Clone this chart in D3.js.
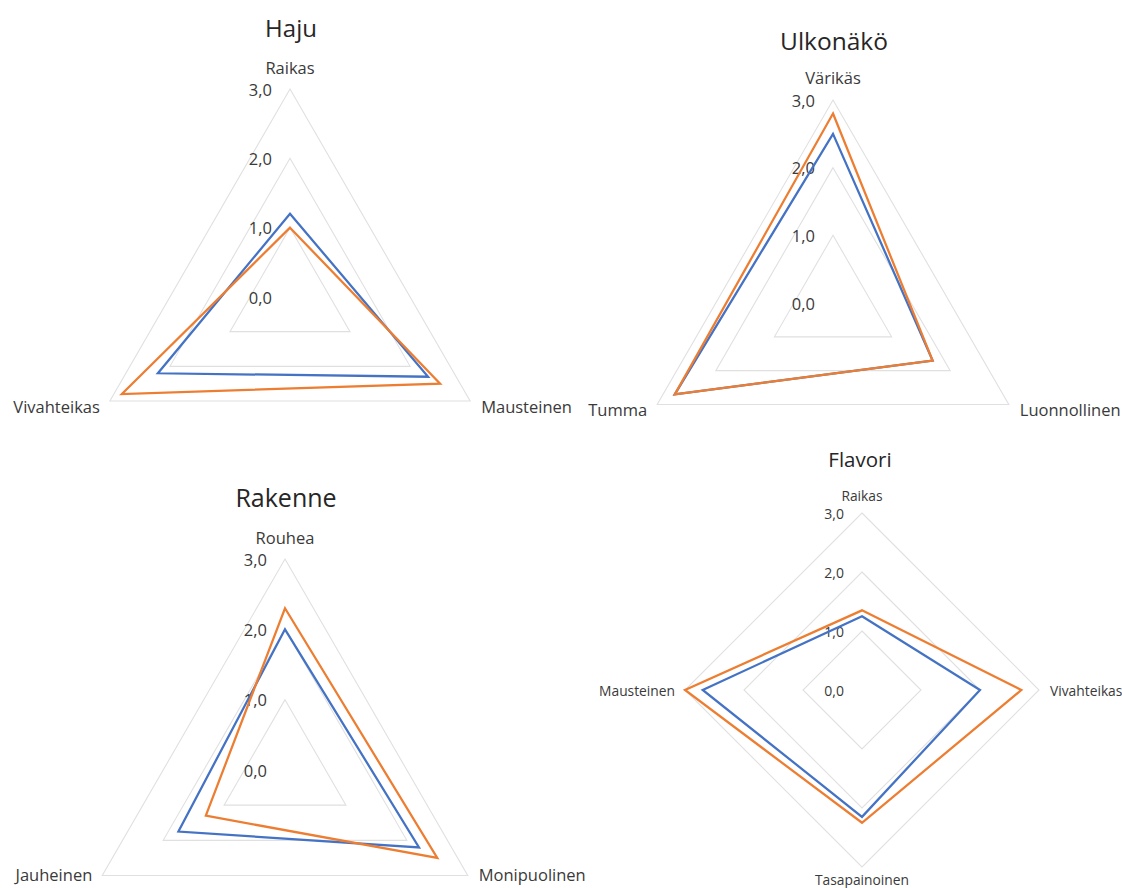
<!DOCTYPE html>
<html>
<head>
<meta charset="utf-8">
<script src="https://cdn.jsdelivr.net/npm/d3@7"></script>
<style>
  html, body { margin: 0; padding: 0; background: #ffffff; }
  svg { display: block; }
  text { font-family: "Open Sans", "Noto Sans", sans-serif; }
</style>
</head>
<body>
<svg id="chart" width="1122" height="888"></svg>
<script>
// ---- data ----
const tickValues = [0, 1, 2, 3];
const tickLabels = ["0,0", "1,0", "2,0", "3,0"];

const hajuCategories = ["Raikas", "Mausteinen", "Vivahteikas"];
const hajuSeries1 = [1.2, 2.3, 2.2];
const hajuSeries2 = [1.0, 2.5, 2.8];

const ulkonakoCategories = ["Värikäs", "Luonnollinen", "Tumma"];
const ulkonakoSeries1 = [2.5, 1.7, 2.7];
const ulkonakoSeries2 = [2.8, 1.7, 2.7];

const rakenneCategories = ["Rouhea", "Monipuolinen", "Jauheinen"];
const rakenneSeries1 = [2.0, 2.2, 1.75];
const rakenneSeries2 = [2.3, 2.5, 1.3];

const flavoriCategories = ["Raikas", "Vivahteikas", "Tasapainoinen", "Mausteinen"];
const flavoriSeries1 = [1.25, 2.0, 2.15, 2.7];
const flavoriSeries2 = [1.35, 2.7, 2.25, 3.0];

const seriesColors = ["#4472C4", "#ED7D31"];

// ---- layout ----
const charts = [
  { title: "Haju", cats: hajuCategories, series: [hajuSeries1, hajuSeries2],
    cx: 290, cy: 297, R: 208, titleX: 291, titleY: 27, titleSize: 24, labelSize: 16.5, valueSize: 16.5, topGap: 22, sideDy: 5 },
  { title: "Ulkonäkö", cats: ulkonakoCategories, series: [ulkonakoSeries1, ulkonakoSeries2],
    cx: 833, cy: 303, R: 203, titleX: 834, titleY: 40, titleSize: 24.5, labelSize: 16.5, valueSize: 16.5, topGap: 23, sideDy: 5 },
  { title: "Rakenne", cats: rakenneCategories, series: [rakenneSeries1, rakenneSeries2],
    cx: 285, cy: 770, R: 211, titleX: 286, titleY: 497, titleSize: 25, labelSize: 16.5, valueSize: 16.5, topGap: 22, sideDy: -1 },
  { title: "Flavori", cats: flavoriCategories, series: [flavoriSeries1, flavoriSeries2],
    cx: 862, cy: 690, R: 177, titleX: 860, titleY: 459, titleSize: 20.5, labelSize: 13.8, valueSize: 14, topGap: 18, sideDy: 0 }
];

const svg = d3.select("#chart");

charts.forEach(c => {
  const n = c.cats.length;
  const r = d3.scaleLinear().domain([0, 3]).range([0, c.R]);
  const angle = d3.scalePoint().domain(d3.range(n + 1)).range([0, 2 * Math.PI]);
  const g = svg.append("g").attr("transform", `translate(${c.cx},${c.cy})`);

  const radial = d3.lineRadial()
    .angle((d, i) => angle(i))
    .radius(d => r(d))
    .curve(d3.curveLinearClosed);

  // grid rings
  g.selectAll("path.grid")
    .data(tickValues.filter(v => v > 0))
    .join("path")
    .attr("class", "grid")
    .attr("d", v => radial(d3.range(n).map(() => v)))
    .attr("fill", "none")
    .attr("stroke", "#e0e0e0")
    .attr("stroke-width", 1.1);

  // value labels
  g.selectAll("text.val")
    .data(tickValues)
    .join("text")
    .attr("class", "val")
    .attr("x", -18)
    .attr("y", v => -r(v))
    .attr("text-anchor", "end")
    .attr("dominant-baseline", "central")
    .attr("font-size", c.valueSize)
    .attr("fill", "#3a3a3a")
    .text((v, i) => tickLabels[i]);

  // series
  c.series.forEach((s, si) => {
    g.append("path")
      .attr("d", radial(s))
      .attr("fill", "none")
      .attr("stroke", seriesColors[si])
      .attr("stroke-width", 2.25)
      .attr("stroke-linejoin", "miter");
  });

  // category labels
  c.cats.forEach((cat, i) => {
    const a = angle(i);
    const sx = Math.sin(a), cy = Math.cos(a);
    const px = r(3) * sx, py = -r(3) * cy;
    let x = px, y = py, anchor = "middle";
    if (cy > 0.9) { y = py - c.topGap; }
    else if (cy < -0.9) { y = py + 12; }
    else {
      anchor = sx > 0 ? "start" : "end";
      x = px + (sx > 0 ? 11 : -10);
      y = py + (cy < -0.1 ? c.sideDy : 0);
    }
    g.append("text")
      .attr("x", x).attr("y", y)
      .attr("text-anchor", anchor)
      .attr("dominant-baseline", "central")
      .attr("font-size", c.labelSize)
      .attr("fill", "#3a3a3a")
      .text(cat);
  });

  // title
  svg.append("text")
    .attr("x", c.titleX).attr("y", c.titleY)
    .attr("text-anchor", "middle")
    .attr("dominant-baseline", "central")
    .attr("font-size", c.titleSize)
    .attr("fill", "#262626")
    .text(c.title);
});
</script>
</body>
</html>
